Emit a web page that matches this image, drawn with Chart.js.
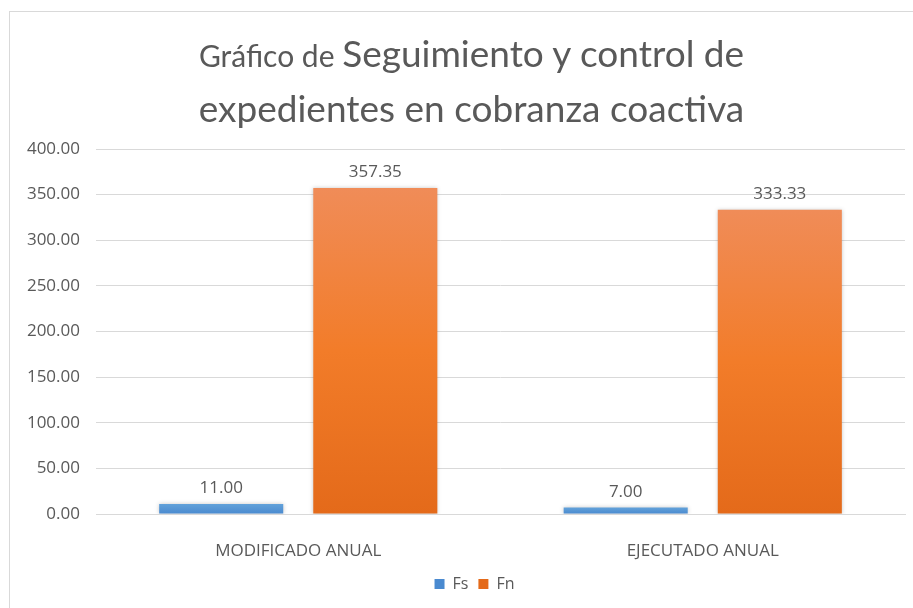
<!DOCTYPE html>
<html>
<head>
<meta charset="utf-8">
<script src="https://cdn.jsdelivr.net/npm/chart.js@4.4.1/dist/chart.umd.min.js"></script>
<style>
    html, body { margin: 0; padding: 0; background: #fff; }
    #wrap { position: relative; width: 913px; height: 608px; overflow: hidden; }
    #frame { position: absolute; left: 9px; top: 11px; width: 1000px; height: 700px; border: 1px solid #d9d9d9; }
    #title {
        position: absolute; left: 15px; top: 29px; width: 913px; text-align: center;
        font-family: Lato, sans-serif; color: #595959; line-height: 47px;
    }
    #title .small { font-size: 30px; }
    #title .big { font-size: 37px; }
    #chart { position: absolute; left: 0; top: 0; }
</style>
</head>
<body>
<div id="wrap">
    <div id="frame"></div>
    <canvas id="chart" width="913" height="608"></canvas>
    <div id="title"><span class="small">Gráfico de </span><span class="big">Seguimiento y control de</span><br><span class="big">expedientes en cobranza coactiva</span></div>
</div>
<script>
const categories = ['MODIFICADO ANUAL', 'EJECUTADO ANUAL'];
const fsValues = [11.00, 7.00];
const fnValues = [357.35, 333.33];
const seriesNames = ['Fs', 'Fn'];
const yTicks = [0, 50, 100, 150, 200, 250, 300, 350, 400];

const TEXT_COLOR = '#595959';
const GRID_COLOR = '#d9d9d9';
const FONT = '"Open Sans", sans-serif';

// vertical gradient per bar, from its top down to the baseline
function barGradient(topColor, midColor, bottomColor, flat) {
    return (context) => {
        const chart = context.chart;
        const area = chart.chartArea;
        if (!area || context.raw == null) return flat;
        const y = chart.scales.y;
        const top = y.getPixelForValue(context.raw);
        const bottom = y.getPixelForValue(0);
        if (!isFinite(top) || bottom - top < 1) return flat;
        const g = chart.ctx.createLinearGradient(0, top, 0, bottom);
        g.addColorStop(0, topColor);
        g.addColorStop(0.5, midColor);
        g.addColorStop(1, bottomColor);
        return g;
    };
}

// value labels above bars
const valueLabels = {
    id: 'valueLabels',
    afterDatasetsDraw(chart) {
        const ctx = chart.ctx;
        ctx.save();
        ctx.font = '17px ' + FONT;
        ctx.fillStyle = TEXT_COLOR;
        ctx.textAlign = 'center';
        ctx.textBaseline = 'bottom';
        chart.data.datasets.forEach((ds, i) => {
            chart.getDatasetMeta(i).data.forEach((bar, j) => {
                ctx.fillText(Number(ds.data[j]).toFixed(2), bar.x, bar.y - 7);
            });
        });
        ctx.restore();
    }
};

// soft shadow around bars
const barShadow = {
    id: 'barShadow',
    beforeDatasetsDraw(chart) {
        const ctx = chart.ctx;
        ctx.save();
        ctx.shadowColor = 'rgba(0,0,0,0.22)';
        ctx.shadowBlur = 4;
    },
    afterDatasetsDraw(chart) {
        chart.ctx.restore();
    }
};

// legend sits a little right of the canvas centre in the original
const legendShift = {
    id: 'legendShift',
    afterLayout(chart) {
        chart.legend.left += 22;
        chart.legend.right += 22;
    }
};

new Chart(document.getElementById('chart').getContext('2d'), {
    type: 'bar',
    data: {
        labels: categories,
        datasets: [{
            label: seriesNames[0],
            data: fsValues,
            backgroundColor: barGradient('#62a2da', '#5695d4', '#4a8ad0', '#5b9bd5'),
            borderWidth: 0,
            categoryPercentage: 0.762,
            barPercentage: 0.805
        }, {
            label: seriesNames[1],
            data: fnValues,
            backgroundColor: barGradient('#f08c58', '#f27c29', '#e46a1a', '#ed7d31'),
            borderWidth: 0,
            categoryPercentage: 0.762,
            barPercentage: 0.805
        }]
    },
    options: {
        responsive: false,
        animation: false,
        layout: { padding: { top: 149, left: 0, right: 8, bottom: 6 } },
        scales: {
            x: {
                grid: { display: false },
                border: { display: true, color: GRID_COLOR, width: 1 },
                ticks: { color: TEXT_COLOR, font: { family: FONT, size: 17 }, padding: 19 },
                afterFit: (scale) => { scale.height = 52; }
            },
            y: {
                min: 0,
                max: 400,
                afterBuildTicks: (scale) => { scale.ticks = yTicks.map(v => ({ value: v })); },
                grid: { color: GRID_COLOR, lineWidth: 1, drawTicks: false },
                border: { display: false },
                ticks: {
                    color: TEXT_COLOR,
                    font: { family: FONT, size: 17 },
                    padding: 16,
                    callback: (v) => Number(v).toFixed(2)
                },
                afterFit: (scale) => { scale.width = 96; }
            }
        },
        plugins: {
            legend: {
                position: 'bottom',
                labels: {
                    color: TEXT_COLOR,
                    font: { family: FONT, size: 16 },
                    boxWidth: 10,
                    boxHeight: 10,
                    padding: 10
                }
            },
            tooltip: { enabled: false }
        }
    },
    plugins: [barShadow, valueLabels, legendShift]
});
</script>
</body>
</html>
